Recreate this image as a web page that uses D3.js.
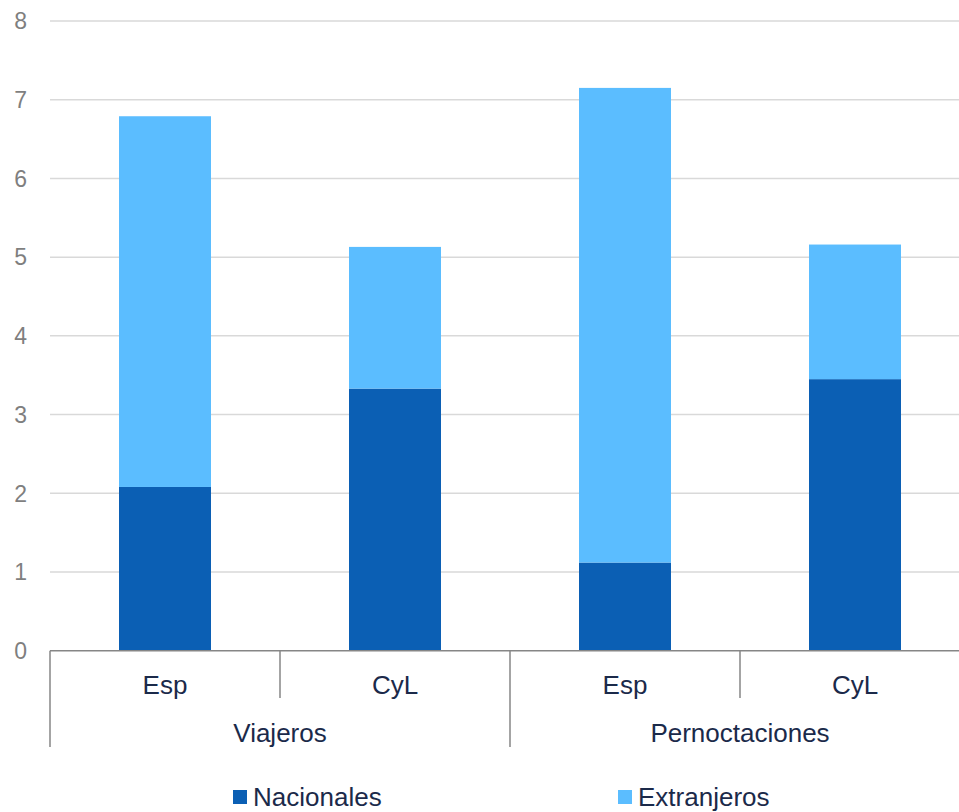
<!DOCTYPE html>
<html>
<head>
<meta charset="utf-8">
<script src="https://cdn.jsdelivr.net/npm/d3@7"></script>
<style>
  body { margin: 0; background: #fff; }
  svg { display: block; font-family: "Liberation Sans", Arial, sans-serif; }
</style>
</head>
<body>
<div id="chart"></div>
<script>
// data
var groups = ["Viajeros", "Pernoctaciones"];
var regions = ["Esp", "CyL"];
var nacionales = [2.08, 3.33, 1.12, 3.45];
var extranjeros = [4.71, 1.80, 6.03, 1.71];
var seriesNames = ["Nacionales", "Extranjeros"];
var yTicks = [0, 1, 2, 3, 4, 5, 6, 7, 8];

var colors = ["#0b5fb4", "#5bbdff"];

var W = 959, H = 812;
var x0 = 50, x1 = 970, yTop = 21, yBottom = 650.7;

var svg = d3.select("#chart").append("svg")
  .attr("width", W).attr("height", H);

// one row per bar
var rows = [];
groups.forEach(function(g, gi){
  regions.forEach(function(r, ri){
    var i = gi * regions.length + ri;
    rows.push({key: g + "|" + r, group: g, region: r,
      Nacionales: nacionales[i], Extranjeros: extranjeros[i]});
  });
});

var x = d3.scaleBand()
  .domain(rows.map(function(d){ return d.key; }))
  .range([x0, x1])
  .paddingInner(0.6)
  .paddingOuter(0.3);

var xStep = (x1 - x0) / rows.length;

var y = d3.scaleLinear().domain([0, 8]).range([yBottom, yTop]);

// gridlines
svg.append("g")
  .selectAll("line")
  .data(yTicks.filter(function(t){ return t > 0; }))
  .enter().append("line")
  .attr("x1", x0).attr("x2", x1)
  .attr("y1", function(d){ return y(d); })
  .attr("y2", function(d){ return y(d); })
  .attr("stroke", "#d9d9d9")
  .attr("stroke-width", 1.5);

// y tick labels
svg.append("g")
  .selectAll("text")
  .data(yTicks)
  .enter().append("text")
  .attr("x", 27)
  .attr("y", function(d){ return y(d); })
  .attr("dy", "0.36em")
  .attr("text-anchor", "end")
  .attr("font-size", "23px")
  .attr("fill", "#7f7f7f")
  .text(function(d){ return d; });

// stacked bars
var stack = d3.stack().keys(seriesNames);
var layers = stack(rows);

svg.append("g")
  .selectAll("g")
  .data(layers)
  .enter().append("g")
  .attr("fill", function(d, i){ return colors[i]; })
  .selectAll("rect")
  .data(function(d){ return d; })
  .enter().append("rect")
  .attr("x", function(d){ return x(d.data.key); })
  .attr("width", x.bandwidth())
  .attr("y", function(d){ return y(d[1]); })
  .attr("height", function(d){ return y(d[0]) - y(d[1]); });

// x axis line
var axisG = svg.append("g").attr("stroke", "#868686").attr("stroke-width", 1.5);
axisG.append("line")
  .attr("x1", x0).attr("x2", x1)
  .attr("y1", yBottom).attr("y2", yBottom);

// inner dividers (between regions)
rows.forEach(function(d, i){
  if (i % regions.length !== 0) {
    var xx = x0 + i * xStep;
    axisG.append("line")
      .attr("x1", xx).attr("x2", xx)
      .attr("y1", yBottom).attr("y2", 698);
  }
});
// outer dividers (between groups)
groups.forEach(function(g, gi){
  var xx = x0 + gi * regions.length * xStep;
  axisG.append("line")
    .attr("x1", xx).attr("x2", xx)
    .attr("y1", yBottom).attr("y2", 747);
});

// region labels
svg.append("g")
  .selectAll("text")
  .data(rows)
  .enter().append("text")
  .attr("x", function(d){ return x(d.key) + x.bandwidth() / 2; })
  .attr("y", 694)
  .attr("text-anchor", "middle")
  .attr("font-size", "26px")
  .attr("fill", "#1b2a4a")
  .text(function(d){ return d.region; });

// group labels
svg.append("g")
  .selectAll("text")
  .data(groups)
  .enter().append("text")
  .attr("x", function(d, gi){ return x0 + (gi + 0.5) * regions.length * xStep; })
  .attr("y", 742)
  .attr("text-anchor", "middle")
  .attr("font-size", "26px")
  .attr("fill", "#1b2a4a")
  .text(function(d){ return d; });

// legend
var legendX = [233, 618];
var legend = svg.append("g")
  .selectAll("g")
  .data(seriesNames)
  .enter().append("g")
  .attr("transform", function(d, i){ return "translate(" + legendX[i] + ",790)"; });
legend.append("rect")
  .attr("width", 14).attr("height", 14)
  .attr("fill", function(d, i){ return colors[i]; });
legend.append("text")
  .attr("x", 20).attr("y", 16)
  .attr("font-size", "26px")
  .attr("fill", "#1b2a4a")
  .text(function(d){ return d; });
</script>
</body>
</html>
